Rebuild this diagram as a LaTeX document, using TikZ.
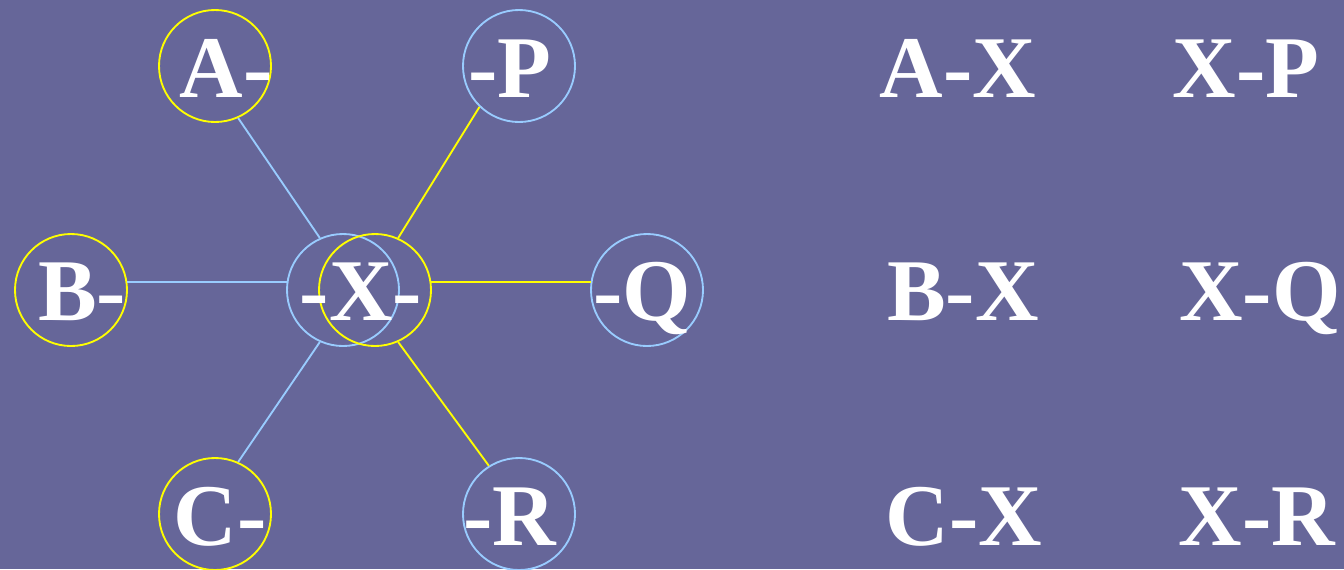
\documentclass[tikz,border=0pt]{standalone}
\usepackage{fontspec}
\setmainfont{Liberation Serif}
\definecolor{bg}{HTML}{666699}
\definecolor{lblue}{HTML}{99CCFF}
\definecolor{yel}{HTML}{FFFF00}
\begin{document}
\begin{tikzpicture}[x=0.75pt,y=-0.75pt,
  ring/.style={circle,draw,line width=1.4pt,minimum size=84pt,inner sep=0pt},
  yring/.style={ring,draw=yel},
  bring/.style={ring,draw=lblue},
  lbl/.style={anchor=base,inner sep=0pt,text=white,font=\fontsize{66}{66}\selectfont\bfseries},
  yline/.style={draw=yel,line width=1.4pt},
  bline/.style={draw=lblue,line width=1.4pt}]
\fill[bg] (0,0) rectangle (1344,569);
\useasboundingbox (0,0) rectangle (1344,569);
% circles
\node[yring] (A) at (215,66) {};
\node[bring] (P) at (519,66) {};
\node[yring] (B) at (71,290) {};
\node[bring] (Xb) at (343,290) {};
\node[yring] (Xy) at (375,290) {};
\node[bring] (Q) at (647,290) {};
\node[yring] (C) at (215,514) {};
\node[bring] (R) at (519,514) {};
% connectors
\draw[bline] (A.-66) -- (Xb.114);
\draw[bline] (B.8) -- (Xb.172);
\draw[bline] (C.66) -- (Xb.-114);
\draw[yline] (P.-134) -- (Xy.66);
\draw[yline] (Q.172) -- (Xy.8);
\draw[yline] (R.122) -- (Xy.-66);
% labels
\node[lbl] (tA) at (226,97) {A-};
\node[lbl] (tP) at (510,97) {-P};
\node[lbl] (tB) at (82,320) {B-};
\node[lbl] (tX) at (361,320) {-X-};
\node[lbl] (tQ) at (642,320) {-Q};
\node[lbl] (tC) at (220,545) {C-};
\node[lbl] (tR) at (510,545) {-R};
% right side
\node[lbl] (rAX) at (958,97) {A-X};
\node[lbl] (rXP) at (1246,97) {X-P};
\node[lbl] (rBX) at (963,320) {B-X};
\node[lbl] (rXQ) at (1260,320) {X-Q};
\node[lbl] (rCX) at (964,545) {C-X};
\node[lbl] (rXR) at (1257,545) {X-R};
\end{tikzpicture}
\end{document}
